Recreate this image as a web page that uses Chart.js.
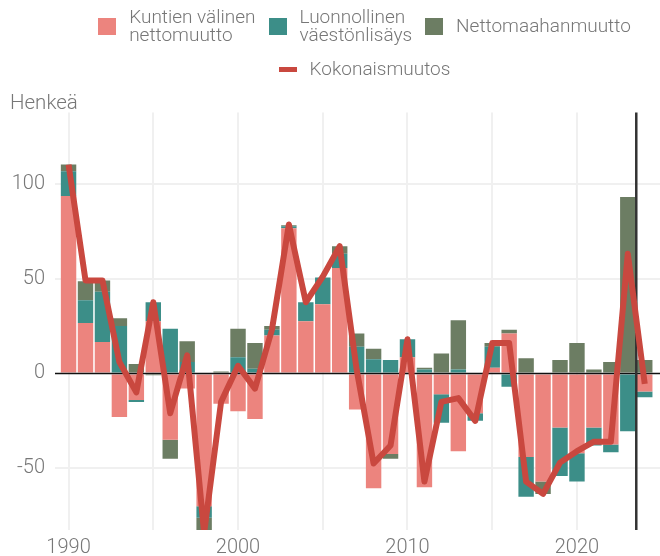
<!DOCTYPE html>
<html lang="fi">
<head>
<meta charset="utf-8">
<title>Väestönmuutos</title>
<script src="https://cdn.jsdelivr.net/npm/chart.js@4/dist/chart.umd.min.js"></script>
<style>
  html, body { margin: 0; padding: 0; background: #fff; }
  #wrap { position: relative; width: 660px; height: 556px; font-family: Roboto, "Open Sans", sans-serif; }
  #wrap canvas { position: absolute; left: 0; top: 0; }
  #legend { position: absolute; top: 0; left: 69px; right: 0; color: #777; font-size: 19px; line-height: 18.5px; font-weight: 300; }
  .legend-row { display: flex; justify-content: center; align-items: center; gap: 13px; }
  .legend-row.first { margin-top: 7.6px; height: 37px; }
  .legend-row.second { margin-top: 15.4px; height: 18.5px; }
  .legend-item { display: flex; align-items: center; gap: 13px; white-space: nowrap; }
  .swatch { width: 18px; height: 17px; }
  .swatch.line { height: 5px; }
</style>
</head>
<body>
<div id="wrap">
  <canvas id="chart" width="660" height="556"></canvas>
  <div id="legend"></div>
</div>
<script>
// === Data ===
const years = [1990, 1991, 1992, 1993, 1994, 1995, 1996, 1997, 1998, 1999,
  2000, 2001, 2002, 2003, 2004, 2005, 2006, 2007, 2008, 2009,
  2010, 2011, 2012, 2013, 2014, 2015, 2016, 2017, 2018, 2019,
  2020, 2021, 2022, 2023, 2024];

const kuntienValinen = [93.5, 26.5, 16.5, -23, -14, 27.5, -35, -8, -70, -16,
  -20, -24, 20, 76.5, 27.5, 36.5, 55.5, -19, -60.5, -42.5,
  8.5, -60, -11, -41, -21, 3, 21, -44, -57, -28.5,
  -42, -28.5, -37.5, 0, -9.5];

const luonnollinen = [13, 12, 26.5, 25, -1, 10, 23.5, 6, -6, 0,
  8.5, 2.5, 3, 1, 10, 14, 7.5, 14, 7.5, 7,
  9.5, 2, -15, 2, -4, 11, -7, -21, 0, -25.5,
  -15, -9.5, -4, -30.5, -3];

const nettomaahanmuutto = [3.5, 10, 6, 4, 5, -1, -10, 11, -8, 1,
  15, 13.5, 2, 0.5, 0, 0, 4, 7, 5.5, -2.5,
  0, 1, 10.5, 26, 0, 2, 2, 8, -6.5, 7,
  16, 2, 6, 93, 7];

const kokonaismuutos = [110, 49, 49, 6, -10, 37.5, -21, 9.5, -84, -15,
  4, -8, 23, 78.5, 37.5, 51, 67, 2, -47.5, -38,
  18, -57, -15, -13, -25, 16, 16, -57, -63.5, -47,
  -41, -36, -36, 63, -5.5];

const xTicks = [1990, 1995, 2000, 2005, 2010, 2015, 2020];
const yTicks = [-50, 0, 50, 100];
const markerYear = 2023.5; // vertical line after the last bar with actual data

const FONT = 'Roboto, "Open Sans", sans-serif';
const GREY = '#777';

const points = arr => years.map((y, i) => ({ x: y, y: arr[i] }));

// === Zero line + vertical marker, drawn between bars and the total line ===
const refLines = {
  id: 'refLines',
  beforeDatasetDraw(chart, args) {
    if (args.index !== 3) return;
    const { ctx, chartArea, scales } = chart;
    const y0 = scales.y.getPixelForValue(0);
    const xm = scales.x.getPixelForValue(markerYear);
    ctx.save();
    ctx.strokeStyle = '#111';
    ctx.lineWidth = 1.5;
    ctx.beginPath();
    ctx.moveTo(chartArea.left, y0);
    ctx.lineTo(chartArea.right, y0);
    ctx.stroke();
    ctx.strokeStyle = '#333';
    ctx.lineWidth = 2.5;
    ctx.beginPath();
    ctx.moveTo(xm, chartArea.top);
    ctx.lineTo(xm, chartArea.bottom);
    ctx.stroke();
    ctx.restore();
  }
};

// === HTML legend built from the chart's own labels ===
const htmlLegend = {
  id: 'htmlLegend',
  afterUpdate(chart) {
    const box = document.getElementById('legend');
    box.innerHTML = '';
    const items = chart.options.plugins.legend.labels.generateLabels(chart);
    const row1 = document.createElement('div');
    row1.className = 'legend-row first';
    const row2 = document.createElement('div');
    row2.className = 'legend-row second';
    items.forEach(item => {
      const ds = chart.data.datasets[item.datasetIndex];
      const el = document.createElement('div');
      el.className = 'legend-item';
      const sw = document.createElement('span');
      sw.className = ds.type === 'line' ? 'swatch line' : 'swatch';
      sw.style.background = ds.type === 'line' ? ds.borderColor : ds.backgroundColor;
      const txt = document.createElement('span');
      txt.innerHTML = ds.label.split('\n').join('<br>');
      el.appendChild(sw);
      el.appendChild(txt);
      (ds.type === 'line' ? row2 : row1).appendChild(el);
    });
    box.appendChild(row1);
    box.appendChild(row2);
  }
};

document.addEventListener('DOMContentLoaded', () => {
  const ctx = document.getElementById('chart').getContext('2d');
  new Chart(ctx, {
    type: 'bar',
    data: {
      datasets: [
        { label: 'Kuntien välinen\nnettomuutto', data: points(kuntienValinen), backgroundColor: '#ec847e', order: 1 },
        { label: 'Luonnollinen\nväestönlisäys', data: points(luonnollinen), backgroundColor: '#3c8e88', order: 1 },
        { label: 'Nettomaahanmuutto', data: points(nettomaahanmuutto), backgroundColor: '#6c7d63', order: 1 },
        {
          type: 'line', label: 'Kokonaismuutos', data: points(kokonaismuutos),
          borderColor: '#c9483f', backgroundColor: '#c9483f', borderWidth: 6,
          borderJoinStyle: 'round', pointRadius: 0, tension: 0, stack: 'total', order: 0
        }
      ]
    },
    options: {
      responsive: false,
      animation: false,
      layout: { padding: { top: 95, left: 10, right: 0, bottom: 0 } },
      datasets: { bar: { barPercentage: 0.91, categoryPercentage: 1 } },
      plugins: {
        legend: { display: false },
        tooltip: { enabled: false },
        title: {
          display: true, text: 'Henkeä', align: 'start', color: GREY,
          font: { family: FONT, size: 20.5, weight: '300', lineHeight: 0.85 },
          padding: { top: 0, bottom: 0 }
        }
      },
      scales: {
        x: {
          type: 'linear', stacked: true, offset: false,
          min: 1989.2, max: 2024.9,
          afterBuildTicks: axis => { axis.ticks = xTicks.map(v => ({ value: v })); },
          afterFit: axis => { axis.height = 26; },
          grid: { color: '#f0f0f0', lineWidth: 2, drawTicks: false, offset: false },
          border: { display: false },
          ticks: {
            color: GREY, padding: 9, maxRotation: 0, autoSkip: false,
            font: { family: FONT, size: 20, weight: '300', lineHeight: 0.85 },
            callback: v => (v % 10 === 0 ? String(v) : '')
          }
        },
        y: {
          stacked: true, min: -82.5, max: 137.5,
          afterBuildTicks: axis => { axis.ticks = yTicks.map(v => ({ value: v })); },
          afterFit: axis => { axis.width = 45; },
          grid: {
            color: c => (c.tick && c.tick.value === 0 ? 'rgba(0,0,0,0)' : '#f0f0f0'),
            lineWidth: 2, drawTicks: false
          },
          border: { display: false },
          ticks: {
            color: GREY, padding: 10,
            font: { family: FONT, size: 20, weight: '300' }
          }
        }
      }
    },
    plugins: [refLines, htmlLegend]
  });
});
</script>
</body>
</html>
